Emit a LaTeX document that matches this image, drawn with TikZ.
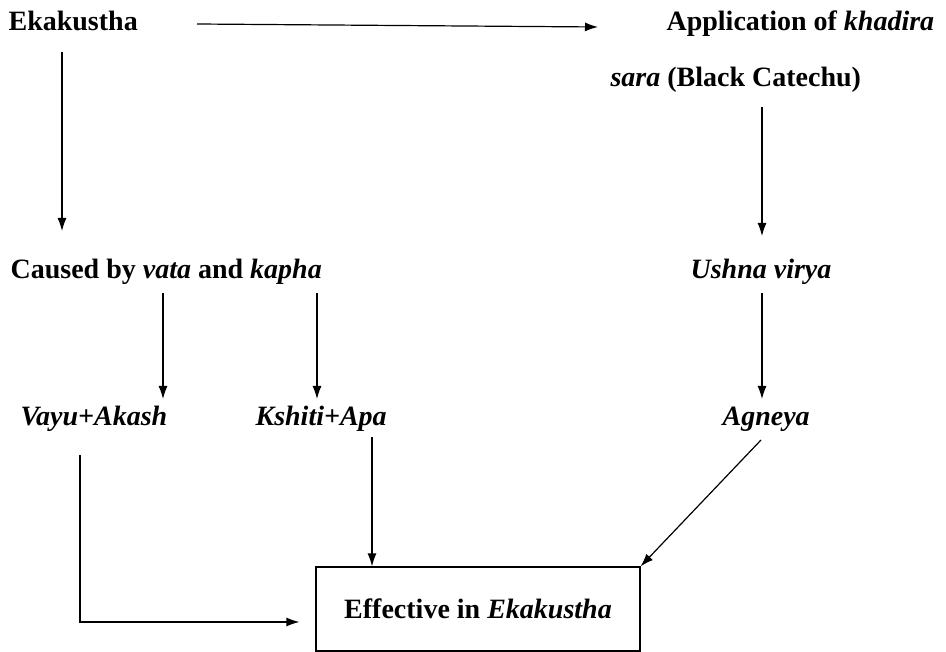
\documentclass[tikz,border=0pt]{standalone}
\usepackage{fontspec}
\setmainfont{Liberation Serif}
\usetikzlibrary{arrows.meta}
\usetikzlibrary{positioning}

\begin{document}
\begin{tikzpicture}[>={Latex[length=13pt,width=9pt]},x=1pt,y=-1pt,line width=1.2pt,
	lbl/.style={inner sep=0pt, anchor=base west, font=\fontsize{28}{32}\selectfont\bfseries}]
			\useasboundingbox (0,0) rectangle (946,652);
			\node[lbl] (ek) at (8, 31) {Ekakustha};
			\node[lbl] (app) at (666, 31) {Application of \textit{khadira}};
			\node[lbl] (sara) at (610, 87) {\textit{sara} (Black Catechu)};
			\node[lbl] (cause) at (10, 279) {Caused by \textit{vata} and \textit{kapha}};
			\node[lbl] (ushna) at (690, 279) {\textit{Ushna virya}};
			\node[lbl] (vayu) at (20, 426) {\textit{Vayu+Akash}};
			\node[lbl] (kshiti) at (255, 426) {\textit{Kshiti+Apa}};
			\node[lbl] (agneya) at (722, 426) {\textit{Agneya}};
			\node[draw, line width=1.2pt, minimum width=324pt, minimum height=84pt, inner sep=0pt,
				font=\fontsize{28}{32}\selectfont\bfseries] (eff) at (478, 609) {Effective in \textit{Ekakustha}};
			\coordinate (a1) at (197, 24);
			\coordinate (a2) at (598, 27);
			\coordinate (b1) at (62, 52);
			\coordinate (b2) at (62, 231);
			\coordinate (c1) at (762, 107);
			\coordinate (c2) at (762, 236);
			\coordinate (d1) at (163, 293);
			\coordinate (d2) at (163, 399);
			\coordinate (e1) at (317, 293);
			\coordinate (e2) at (317, 399);
			\coordinate (f1) at (762, 293);
			\coordinate (f2) at (762, 399);
			\coordinate (g1) at (80, 455);
			\coordinate (g2) at (80, 622);
			\coordinate (h1) at (372, 437);
			\coordinate (k1) at (761, 440);
			\draw[->] (a1) -- (a2);
			\draw[->] (b1) -- (b2);
			\draw[->] (c1) -- (c2);
			\draw[->] (d1) -- (d2);
			\draw[->] (e1) -- (e2);
			\draw[->] (f1) -- (f2);
			\draw[->] (g1) -- (g2) -- ([xshift=-16pt]eff.west |- g2);
			\draw[->] (h1) -- (h1 |- eff.north);
			\draw[->] (k1) -- (eff.north east);
		\end{tikzpicture}
\end{document}
